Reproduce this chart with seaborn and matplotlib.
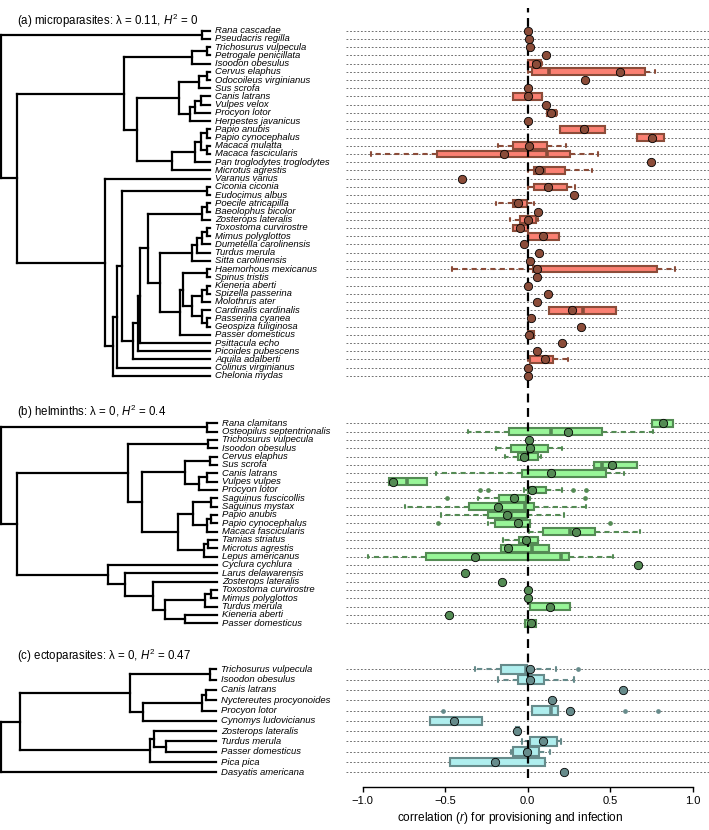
import numpy as np
import pandas as pd
import seaborn as sns
import matplotlib.pyplot as plt
from matplotlib.collections import LineCollection

# ---------------- data ----------------
# (a) microparasites
a_species = [
    'Rana cascadae', 'Pseudacris regilla', 'Trichosurus vulpecula', 'Petrogale penicillata',
    'Isoodon obesulus', 'Cervus elaphus', 'Odocoileus virginianus', 'Sus scrofa',
    'Canis latrans', 'Vulpes velox', 'Procyon lotor', 'Herpestes javanicus',
    'Papio anubis', 'Papio cynocephalus', 'Macaca mulatta', 'Macaca fascicularis',
    'Pan troglodytes troglodytes', 'Microtus agrestis', 'Varanus varius', 'Ciconia ciconia',
    'Eudocimus albus', 'Poecile atricapilla', 'Baeolophus bicolor', 'Zosterops lateralis',
    'Toxostoma curvirostre', 'Mimus polyglottos', 'Dumetella carolinensis', 'Turdus merula',
    'Sitta carolinensis', 'Haemorhous mexicanus', 'Spinus tristis', 'Kieneria aberti',
    'Spizella passerina', 'Molothrus ater', 'Cardinalis cardinalis', 'Passerina cyanea',
    'Geospiza fuliginosa', 'Passer domesticus', 'Psittacula echo', 'Picoides pubescens',
    'Aquila adalberti', 'Colinus virginianus', 'Chelonia mydas']
a_point = [0.0, 0.01, 0.015, 0.11, 0.05, 0.56, 0.35, 0.0, 0.0, 0.11, 0.14, 0.0,
           0.34, 0.753, 0.01, -0.14, 0.75, 0.07, -0.40, 0.125, 0.28, -0.057, 0.064, 0.0,
           -0.045, 0.095, -0.022, 0.07, 0.018, 0.06, 0.055, 0.0, 0.125, 0.055, 0.27, 0.02,
           0.326, 0.01, 0.21, 0.06, 0.105, 0.0, 0.0]
a_r = [[], [], [], [],
       [0.0, 0.005, 0.04, 0.08, 0.085],
       [0.0, 0.03, 0.13, 0.715, 0.77],
       [], [],
       [-0.09, -0.09, 0.0, 0.09, 0.09],
       [],
       [0.12, 0.12, 0.14, 0.17, 0.18],
       [],
       [0.195, 0.195, 0.33, 0.467, 0.467],
       [0.665, 0.665, 0.75, 0.825, 0.825],
       [-0.18, -0.087, 0.02, 0.118, 0.235],
       [-0.95, -0.55, 0.118, 0.26, 0.43],
       [],
       [0.005, 0.04, 0.1, 0.23, 0.39],
       [],
       [0.0, 0.04, 0.12, 0.24, 0.29],
       [],
       [-0.19, -0.09, -0.06, -0.003, 0.04],
       [],
       [-0.107, -0.045, 0.0, 0.05, 0.066],
       [-0.09, -0.09, -0.045, 0.0, 0.0],
       [0.0, 0.0, 0.095, 0.19, 0.19],
       [], [], [],
       [-0.46, 0.034, 0.07, 0.783, 0.894],
       [], [], [], [],
       [0.13, 0.13, 0.336, 0.535, 0.535],
       [], [],
       [0.0, 0.0, 0.01, 0.04, 0.04],
       [], [],
       [0.0, 0.018, 0.1, 0.155, 0.245],
       [], []]
a_tree = [0.0,
          [0.96, 'Rana cascadae', 'Pseudacris regilla'],
          [0.077,
           [0.59,
            [0.912, [0.985, 'Trichosurus vulpecula', 'Petrogale penicillata'], 'Isoodon obesulus'],
            [0.649,
             [0.853,
              [0.945, [0.985, 'Cervus elaphus', 'Odocoileus virginianus'], 'Sus scrofa'],
              [0.905, [0.93, [0.955, 'Canis latrans', 'Vulpes velox'], 'Procyon lotor'],
               'Herpestes javanicus']],
             [0.817,
              [0.93, [0.955, [0.985, 'Papio anubis', 'Papio cynocephalus'],
                      [0.985, 'Macaca mulatta', 'Macaca fascicularis']],
               'Pan troglodytes troglodytes'],
              'Microtus agrestis']]],
           [0.498, 'Varanus varius',
            [0.534,
             [0.554,
              [0.578,
               [0.985, 'Ciconia ciconia', 'Eudocimus albus'],
               [0.63,
                [0.654,
                 [0.665,
                  [0.705,
                   [0.96, [0.985, 'Poecile atricapilla', 'Baeolophus bicolor'], 'Zosterops lateralis'],
                   [0.76,
                    [0.912, [0.94, [0.96, [0.985, 'Toxostoma curvirostre', 'Mimus polyglottos'],
                                    'Dumetella carolinensis'], 'Turdus merula'],
                     'Sitta carolinensis'],
                    [0.857,
                     [0.872,
                      [0.985, 'Haemorhous mexicanus', 'Spinus tristis'],
                      [0.912,
                       [0.96, [0.985, 'Kieneria aberti', 'Spizella passerina'], 'Molothrus ater'],
                       [0.96, 'Cardinalis cardinalis', [0.985, 'Passerina cyanea', 'Geospiza fuliginosa']]]],
                     'Passer domesticus']]],
                  'Psittacula echo'],
                 'Picoides pubescens'],
                'Aquila adalberti']],
              'Colinus virginianus'],
             'Chelonia mydas']]]]

# (b) helminths
b_species = [
    'Rana clamitans', 'Osteopilus septentrionalis', 'Trichosurus vulpecula', 'Isoodon obesulus',
    'Cervus elaphus', 'Sus scrofa', 'Canis latrans', 'Vulpes vulpes', 'Procyon lotor',
    'Saguinus fuscicollis', 'Saguinus mystax', 'Papio anubis', 'Papio cynocephalus',
    'Macaca fascicularis', 'Tamias striatus', 'Microtus agrestis', 'Lepus americanus',
    'Cyclura cychlura', 'Larus delawarensis', 'Zosterops lateralis', 'Toxostoma curvirostre',
    'Mimus polyglottos', 'Turdus merula', 'Kieneria aberti', 'Passer domesticus']
b_point = [0.823, 0.248, 0.008, 0.015, -0.024, 0.511, 0.141, -0.816, 0.028, -0.08,
           -0.178, -0.127, -0.06, 0.296, -0.012, -0.121, -0.318, 0.668, -0.377, -0.157,
           0.0, 0.0, 0.139, -0.478, 0.02]
b_r = [[0.755, 0.755, 0.82, 0.88, 0.88],
       [-0.36, -0.11, 0.145, 0.453, 0.76],
       [],
       [-0.19, -0.1, 0.02, 0.125, 0.21],
       [-0.137, -0.057, -0.02, 0.064, 0.08],
       [0.40, 0.40, 0.45, 0.662, 0.662],
       [-0.556, -0.036, 0.14, 0.477, 0.582],
       [-0.842, -0.842, -0.73, -0.607, -0.607],
       [-0.29, -0.24, -0.02, 0.004, 0.01, 0.02, 0.03, 0.05, 0.08, 0.11, 0.21, 0.276, 0.356],
       [-0.49, -0.30, -0.17, -0.12, -0.08, -0.05, -0.01, 0.016, 0.346],
       [-0.745, -0.353, -0.016, 0.038, 0.356],
       [-0.524, -0.238, -0.1, -0.006, 0.221],
       [-0.54, -0.242, -0.198, -0.12, -0.05, 0.0, 0.018, 0.018, 0.50],
       [0.01, 0.094, 0.255, 0.407, 0.68],
       [-0.15, -0.05, -0.01, 0.064, 0.064],
       [-0.161, -0.161, 0.03, 0.131, 0.131],
       [-0.967, -0.615, 0.2, 0.252, 0.521],
       [], [], [], [], [],
       [0.014, 0.014, 0.14, 0.26, 0.26],
       [],
       [-0.016, -0.016, 0.02, 0.054, 0.054]]
b_tree = [0.0,
          [0.954, 'Rana clamitans', 'Osteopilus septentrionalis'],
          [0.074,
           [0.588,
            [0.958, 'Trichosurus vulpecula', 'Isoodon obesulus'],
            [0.651,
             [0.852, [0.968, 'Cervus elaphus', 'Sus scrofa'],
              [0.917, [0.952, 'Canis latrans', 'Vulpes vulpes'], 'Procyon lotor']],
             [0.821,
              [0.89, [0.972, 'Saguinus fuscicollis', 'Saguinus mystax'],
               [0.952, [0.972, 'Papio anubis', 'Papio cynocephalus'], 'Macaca fascicularis']],
              [0.94, [0.958, 'Tamias striatus', 'Microtus agrestis'], 'Lepus americanus']]]],
           [0.495, 'Cyclura cychlura',
            [0.574, 'Larus delawarensis',
             [0.705, 'Zosterops lateralis',
              [0.759, [0.944, [0.972, 'Toxostoma curvirostre', 'Mimus polyglottos'], 'Turdus merula'],
               [0.852, 'Kieneria aberti', 'Passer domesticus']]]]]]]

# (c) ectoparasites
c_species = [
    'Trichosurus vulpecula', 'Isoodon obesulus', 'Canis latrans', 'Nyctereutes procyonoides',
    'Procyon lotor', 'Cynomys ludovicianus', 'Zosterops lateralis', 'Turdus merula',
    'Passer domesticus', 'Pica pica', 'Dasyatis americana']
c_point = [0.018, 0.018, 0.578, 0.149, 0.256, -0.445, -0.063, 0.094, -0.006, -0.196, 0.223]
c_r = [[-0.318, -0.2, -0.161, -0.1, -0.01, -0.008, -0.006, 0.171, 0.306],
       [-0.181, -0.057, 0.02, 0.098, 0.282],
       [], [],
       [-0.514, 0.03, 0.03, 0.1, 0.14, 0.17, 0.185, 0.588, 0.793],
       [-0.59, -0.59, -0.44, -0.274, -0.274],
       [-0.07, -0.07, -0.06, -0.05, -0.05],
       [-0.033, 0.014, 0.1, 0.179, 0.2],
       [-0.097, -0.087, -0.01, 0.07, 0.135],
       [-0.47, -0.47, -0.2, 0.105, 0.105],
       []]
c_tree = [0.0,
          [0.088,
           [0.6,
            [0.972, 'Trichosurus vulpecula', 'Isoodon obesulus'],
            [0.659, [0.933, [0.953, 'Canis latrans', 'Nyctereutes procyonoides'], 'Procyon lotor'],
             'Cynomys ludovicianus']],
           [0.693, [0.712, 'Zosterops lateralis', [0.766, 'Turdus merula', 'Passer domesticus']],
            'Pica pica']],
          'Dasyatis americana']

titles = [r'(a) microparasites: λ = 0.11, $H^2$ = 0',
          r'(b) helminths: λ = 0, $H^2$ = 0.4',
          r'(c) ectoparasites: λ = 0, $H^2$ = 0.47']
x_ticks = [-1.0, -0.5, 0.0, 0.5, 1.0]
x_ticklabels = ['\u22121.0', '\u22120.5', '0.0', '0.5', '1.0']

# ---------------- style / layout ----------------
sns.set_theme(style='white')
plt.rcParams['font.family'] = ['Liberation Sans', 'DejaVu Sans']
plt.rcParams['mathtext.fontset'] = 'custom'
plt.rcParams['mathtext.rm'] = 'Liberation Sans'
plt.rcParams['mathtext.it'] = 'Liberation Sans:italic'
plt.rcParams['text.color'] = 'black'
plt.rcParams['axes.labelcolor'] = 'black'
plt.rcParams['xtick.color'] = 'black'
plt.rcParams['xtick.labelcolor'] = 'black'

W, H = 709, 830
y_top, y_bot = 8, 778          # pixel rows spanned by the plot region
split = 346                    # pixel column where the data panel starts

panels = [
    dict(species=a_species, point=a_point, r=a_r, tree=a_tree, title=titles[0],
         first=30.7, step=8.22, tip=210, title_y=20.5,
         fill='#FA8072', dark='#8B4C39'),
    dict(species=b_species, point=b_point, r=b_r, tree=b_tree, title=titles[1],
         first=423.3, step=8.33, tip=217, title_y=411.5,
         fill='#98F598', dark='#548B54'),
    dict(species=c_species, point=c_point, r=c_r, tree=c_tree, title=titles[2],
         first=669.3, step=10.3, tip=216, title_y=655.5,
         fill='#AFEEEE', dark='#668B8B'),
]

fig = plt.figure(figsize=(W / 100, H / 100), dpi=100)
bottom = (H - y_bot) / H
height = (y_bot - y_top) / H
ax_tree = fig.add_axes([0, bottom, split / W, height])
ax = fig.add_axes([split / W, bottom, 1 - split / W, height])

xlim = (-1.1, 1.1)


def walk(node, tips, segs, to_px):
    if isinstance(node, str):
        name, y = next(tips)
        assert name == node, (name, node)
        return to_px(1.0), y
    x = to_px(node[0])
    kids = [walk(k, tips, segs, to_px) for k in node[1:]]
    ys = [k[1] for k in kids]
    segs.append([(x, ys[0]), (x, ys[-1])])
    for kx, ky in kids:
        segs.append([(x, ky), (kx, ky)])
    return x, (ys[0] + ys[-1]) / 2


for p in panels:
    n = len(p['species'])
    ypos = p['first'] + p['step'] * np.arange(n)

    # tree
    segs = []
    root_x = 1.0
    to_px = lambda d, t=p['tip']: root_x + d * (t - root_x)
    walk(p['tree'], iter(zip(p['species'], ypos)), segs, to_px)
    ax_tree.add_collection(LineCollection(segs, colors='black', linewidths=1.6,
                                          capstyle='projecting', clip_on=False))
    for name, y in zip(p['species'], ypos):
        ax_tree.text(p['tip'] + 5, y, name, fontsize=6.8, fontstyle='italic',
                     va='center', ha='left', clip_on=False)
    ax_tree.text(17, p['title_y'], p['title'], fontsize=8.3, va='center', ha='left')

    # row guides
    ax.hlines(ypos, xlim[0], xlim[1], colors='#666666', linestyles=(0, (2, 2)),
              linewidth=0.65, zorder=0.5)

    # boxes
    rows = [(y, v) for y, vals in zip(ypos, p['r']) for v in vals]
    df = pd.DataFrame(rows, columns=['ypos', 'r'])
    dark = p['dark']
    sns.boxplot(data=df, x='r', y='ypos', orient='y', native_scale=True, ax=ax,
                width=0.82, color=p['fill'], saturation=1, linecolor=dark, linewidth=1.5,
                whis=1.5,
                boxprops=dict(facecolor=p['fill'], edgecolor=dark, linewidth=1.5),
                medianprops=dict(color=dark, linewidth=2.6, solid_capstyle='butt'),
                whiskerprops=dict(color=dark, linewidth=1.5, linestyle=(0, (2.5, 2))),
                capprops=dict(color=dark, linewidth=1.5),
                flierprops=dict(marker='o', markersize=2.4, markerfacecolor=dark,
                                markeredgecolor=dark, fillstyle='full'))

    # point estimates
    sns.scatterplot(x=p['point'], y=ypos, ax=ax, color=dark, edgecolor='black',
                    s=36, linewidth=0.6, zorder=5, legend=False)

ax.axvline(0, color='black', linestyle=(0, (4, 2.5)), linewidth=1.6, zorder=4)

ax_tree.set_xlim(0, split)
ax_tree.set_ylim(y_bot, y_top)
ax_tree.axis('off')

ax.set_xlim(*xlim)
ax.set_ylim(y_bot, y_top)
for s in ['left', 'right', 'top']:
    ax.spines[s].set_visible(False)
ax.spines['bottom'].set_position(('outward', 6.5))
ax.spines['bottom'].set_bounds(-1, 1)
ax.spines['bottom'].set_linewidth(1.0)
ax.spines['bottom'].set_color('black')
ax.set_yticks([])
ax.set_ylabel('')
ax.set_xticks(x_ticks)
ax.set_xticklabels(x_ticklabels)
ax.tick_params(axis='x', direction='out', length=3.5, width=1.0, labelsize=8, pad=3,
               bottom=True, color='black', labelcolor='black')
ax.set_xlabel(r'correlation ($r$) for provisioning and infection', fontsize=8.6,
              color='black')
ax.xaxis.set_label_coords(0.452, -0.041)
ax.patch.set_alpha(0)

fig.savefig('out.png', dpi=100)
